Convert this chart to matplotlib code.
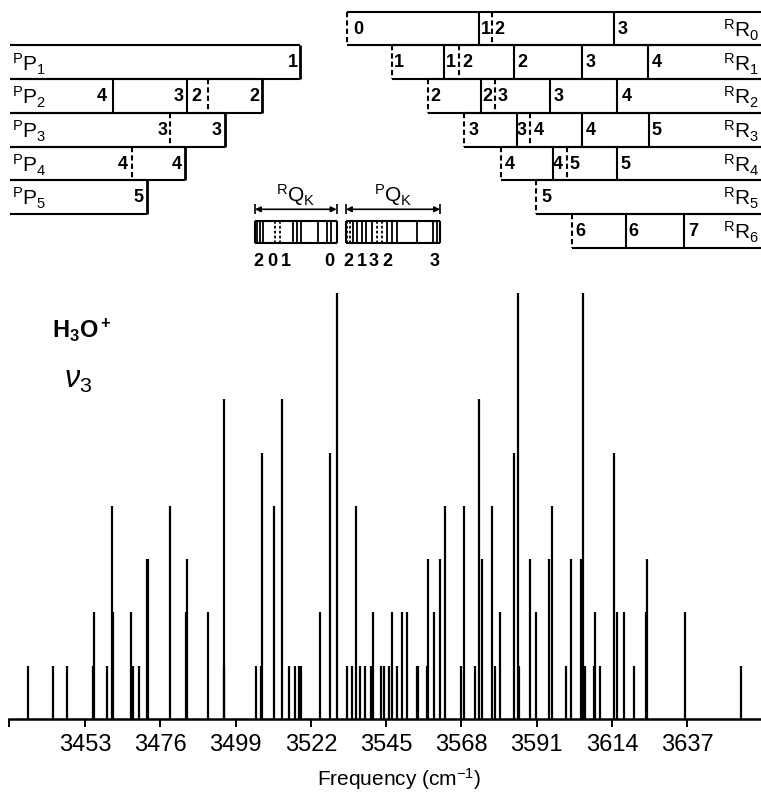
import numpy as np
import matplotlib
matplotlib.use("Agg")
import matplotlib.pyplot as plt

plt.rcParams["font.family"] = ["Liberation Sans", "DejaVu Sans"]
plt.rcParams["mathtext.default"] = "regular"
plt.rcParams["mathtext.fontset"] = "custom"
plt.rcParams["mathtext.rm"] = "Liberation Sans"
plt.rcParams["mathtext.it"] = "Liberation Sans:italic"
plt.rcParams["mathtext.bf"] = "Liberation Sans:bold"

# ---- stick spectrum (frequency in cm-1, relative intensity) ----
line_freq = [
    3435.7, 3443.3, 3447.6, 3455.3, 3455.8, 3459.8, 3461.2, 3461.5, 3467.1, 3467.8,
    3469.4, 3471.9, 3472.4, 3479.0, 3483.8, 3484.1, 3490.7, 3495.4, 3495.6, 3505.2,
    3506.8, 3507.2, 3510.8, 3513.1, 3515.4, 3517.2, 3518.5, 3519.0, 3524.7, 3527.9,
    3529.9, 3533.2, 3534.5, 3535.8, 3537.1, 3538.5, 3540.3, 3541.1, 3543.3, 3544.4,
    3546.0, 3546.9, 3548.2, 3550.0, 3551.5, 3554.4, 3554.8, 3557.5, 3557.9, 3559.7,
    3561.6, 3563.0, 3567.9, 3568.9, 3572.2, 3573.3, 3574.3, 3577.4, 3578.2, 3579.8,
    3584.2, 3585.2, 3585.6, 3588.9, 3590.7, 3594.8, 3595.8, 3599.9, 3601.4, 3604.5,
    3605.1, 3605.8, 3608.5, 3608.9, 3610.3, 3614.6, 3615.4, 3617.8, 3620.7, 3624.4,
    3624.8, 3636.4, 3653.5,
]
line_int = [
    1, 1, 1, 1, 2, 1, 4, 2, 2, 1,
    1, 3, 3, 4, 2, 3, 2, 1, 6, 1,
    1, 5, 4, 6, 1, 1, 1, 1, 2, 5,
    8, 1, 1, 4, 1, 1, 1, 2, 1, 1,
    1, 2, 1, 2, 2, 1, 1, 1, 3, 2,
    3, 4, 1, 4, 1, 6, 3, 4, 1, 2,
    5, 8, 1, 3, 2, 3, 4, 1, 3, 3,
    8, 1, 1, 2, 1, 5, 2, 2, 1, 2,
    3, 2, 1,
]
tick_freq = [3453, 3476, 3499, 3522, 3545, 3568, 3591, 3614, 3637]

# ---- P-branch rows (K = 1..5): right end, dividers, labels ----
p_rows = [1, 2, 3, 4, 5]
p_left = 3430.1
p_right = [3518.7, 3507.0, 3495.8, 3483.6, 3471.9]
p_solid = [[], [3461.6, 3484.1], [], [], []]
p_dashed = [[], [3490.7], [3479.0], [3467.3], []]
p_label_x = [[3516.4], [3458.2, 3481.7, 3487.1, 3504.9], [3476.8, 3493.2], [3464.6, 3481.0], [3469.2]]
p_label_t = [["1"], ["4", "3", "2", "2"], ["3", "3"], ["4", "4"], ["5"]]

# ---- R-branch rows (K = 0..6): dashed left end, dividers, labels ----
r_rows = [0, 1, 2, 3, 4, 5, 6]
r_left = [3533.0, 3546.7, 3557.9, 3568.9, 3580.0, 3590.8, 3601.7]
r_solid = [[3573.4, 3614.7], [3562.8, 3584.1, 3604.8, 3624.9], [3573.9, 3595.1, 3615.6],
           [3584.9, 3605.0, 3625.3], [3595.9, 3615.6], [], [3618.2, 3636.0]]
r_dashed = [[3577.4], [3567.3], [3578.3], [3589.0], [3600.2], [], []]
r_label_x = [[3536.6, 3575.4, 3579.6, 3617.3],
             [3548.8, 3564.9, 3569.8, 3586.6, 3607.5, 3627.7],
             [3560.0, 3575.9, 3580.6, 3597.6, 3618.5],
             [3571.6, 3586.4, 3591.5, 3607.5, 3627.7],
             [3582.9, 3597.5, 3602.4, 3618.2],
             [3594.1],
             [3604.4, 3620.5, 3638.9]]
r_label_t = [["0", "1", "2", "3"], ["1", "1", "2", "2", "3", "4"], ["2", "2", "3", "3", "4"],
             ["3", "3", "4", "4", "5"], ["4", "4", "5", "5"], ["5"], ["6", "6", "7"]]

# ---- Q-branch boxes ----
rq_span = (3504.9, 3529.9)
rq_solid = [3505.5, 3506.5, 3507.3, 3516.6, 3517.9, 3519.0, 3524.3, 3527.0, 3528.1]
rq_dashed = [3511.0, 3512.6]
rq_label_x = [3505.9, 3510.2, 3514.3, 3527.6]
rq_label_t = ["2", "0", "1", "0"]
pq_span = (3532.7, 3561.5)
pq_solid = [3535.0, 3536.2, 3537.5, 3538.9, 3540.6, 3545.2, 3546.7, 3548.2, 3554.3, 3559.2, 3560.5]
pq_dashed = [3533.1, 3534.0, 3542.1, 3543.6]
pq_label_x = [3533.4, 3537.5, 3541.3, 3545.4, 3559.9]
pq_label_t = ["2", "1", "3", "2", "3"]

# layout (reference is 761 x 796 px)
W, H = 761, 796
PX0, F0, PXPERCM = 85.0, 3453.0, 3.273
xlim = (F0 - PX0 / PXPERCM, F0 + (W - PX0) / PXPERCM)
base_px, top_px, unit_px = 719.0, 285.0, 53.3

fig = plt.figure(figsize=(W / 100, H / 100), dpi=100)

ax = fig.add_axes([0, (H - base_px) / H, 1, (base_px - top_px) / H])
ax.vlines(line_freq, 0, line_int, color="black", lw=1.6)
ax.set_xlim(*xlim)
ax.set_ylim(0, (base_px - top_px) / unit_px)
for s in ("top", "right", "left"):
    ax.spines[s].set_visible(False)
ax.spines["bottom"].set_linewidth(1.8)
ax.spines["bottom"].set_bounds(3429.8, xlim[1])
ax.set_yticks([])
ax.set_xticks(tick_freq)
ax.set_xticks([3429.8], minor=True)
ax.tick_params(axis="x", which="both", direction="out", length=6, width=1.4, pad=5, labelsize=17)
ax.set_xlabel("Frequency (cm$^{-1}$)", fontsize=15, va="center")
ax.xaxis.set_label_coords(399 / W, -(779 - base_px) / (base_px - top_px))

fig.text(52 / W, 1 - 330 / H, "H$_3$O$^+$", fontsize=17, fontweight="bold", va="center")
fig.text(64 / W, 1 - 380 / H, r"$\mathit{\nu}_3$", fontsize=22, va="center")

# diagram axes, y in row units (row K spans K..K+1)
dtop_px, row0_px, row_px = 280.0, 11.7, 33.7
dax = fig.add_axes([0, 1 - dtop_px / H, 1, dtop_px / H])
dax.set_xlim(*xlim)
dax.set_ylim((dtop_px - row0_px) / row_px, -row0_px / row_px)
dax.axis("off")

lw = 1.5
dash = (0, (2.5, 1.5))
digit_kw = dict(fontsize=13, fontweight="bold", ha="center", va="center")

for i, k in enumerate(p_rows):
    y0, y1 = k, k + 1
    dax.hlines([y0, y1], p_left, p_right[i], color="black", lw=lw)
    dax.vlines(p_right[i], y0, y1, color="black", lw=lw + 0.5)
    dax.vlines(p_solid[i], y0, y1, color="black", lw=lw)
    dax.vlines(p_dashed[i], y0, y1, color="black", lw=lw, linestyles=[dash])
    for x, t in zip(p_label_x[i], p_label_t[i]):
        dax.text(x, k + 0.52, t, **digit_kw)
    dax.text(p_left + 0.6, k + 0.55, "$^{P}$P$_{%d}$" % k, fontsize=15, ha="left", va="center")

for i, k in enumerate(r_rows):
    y0, y1 = k, k + 1
    dax.hlines([y0, y1], r_left[i], xlim[1], color="black", lw=lw)
    dax.vlines(r_left[i], y0, y1, color="black", lw=lw, linestyles=[dash])
    dax.vlines(r_solid[i], y0, y1, color="black", lw=lw)
    dax.vlines(r_dashed[i], y0, y1, color="black", lw=lw, linestyles=[dash])
    for x, t in zip(r_label_x[i], r_label_t[i]):
        dax.text(x, k + 0.52, t, **digit_kw)
    dax.text(3648.0, k + 0.55, "$^{R}$R$_{%d}$" % k, fontsize=15, ha="left", va="center")

# Q-branch boxes
qy0, qy1 = (220.7 - row0_px) / row_px, (243.3 - row0_px) / row_px
qlab = (261.7 - row0_px) / row_px
qarr = (209.3 - row0_px) / row_px
qname = (195.0 - row0_px) / row_px
for span, sol, dsh, lx, lt, name in [
    (rq_span, rq_solid, rq_dashed, rq_label_x, rq_label_t, "$^{R}$Q$_{K}$"),
    (pq_span, pq_solid, pq_dashed, pq_label_x, pq_label_t, "$^{P}$Q$_{K}$"),
]:
    dax.hlines([qy0, qy1], span[0], span[1], color="black", lw=lw)
    dax.vlines(span, qy0, qy1, color="black", lw=lw)
    dax.vlines(sol, qy0, qy1, color="black", lw=1.3)
    dax.vlines(dsh, qy0, qy1, color="black", lw=1.3, linestyles=[(0, (1.5, 1.2))])
    for x, t in zip(lx, lt):
        dax.text(x, qlab, t, **digit_kw)
    dax.annotate("", xy=(span[0], qarr), xytext=(span[1], qarr),
                 arrowprops=dict(arrowstyle="<|-|>", color="black", lw=1.2,
                                 mutation_scale=8, shrinkA=0, shrinkB=0))
    dax.vlines(span, qarr - 0.15, qarr + 0.15, color="black", lw=1.2)
    dax.text(np.mean(span), qname, name, fontsize=15, ha="center", va="center")

fig.savefig("out.png", dpi=100)
